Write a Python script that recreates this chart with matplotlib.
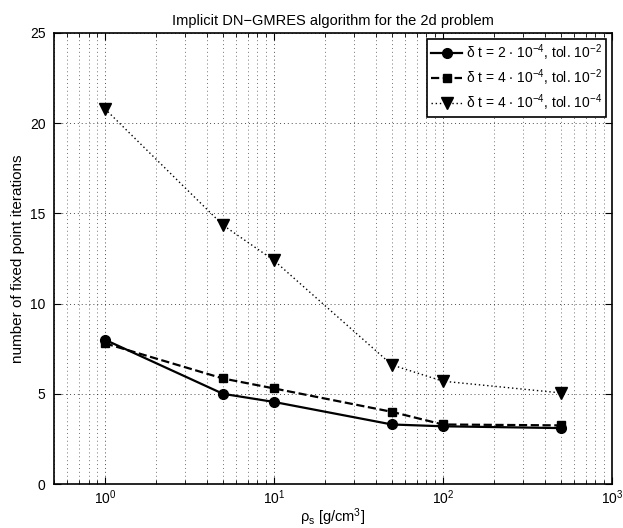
import matplotlib
matplotlib.use("Agg")
import matplotlib.pyplot as plt
import numpy as np

plt.rcParams['font.family'] = ['Liberation Sans', 'DejaVu Sans']
plt.rcParams['mathtext.fontset'] = 'custom'
plt.rcParams['mathtext.rm'] = 'Liberation Sans'
plt.rcParams['mathtext.it'] = 'Liberation Sans:italic'
plt.rcParams['mathtext.default'] = 'regular'

# density rho_s [g/cm^3]
rho = [1, 5, 10, 50, 100, 500]

# fixed point iterations
dt2_tol2 = [8.0, 5.0, 4.55, 3.3, 3.2, 3.1]
dt4_tol2 = [7.8, 5.85, 5.3, 4.0, 3.3, 3.25]
dt4_tol4 = [20.8, 14.35, 12.4, 6.6, 5.7, 5.05]

labels = [r'$\delta$ t = 2 $\cdot$ 10$^{-4}$, tol. 10$^{-2}$',
          r'$\delta$ t = 4 $\cdot$ 10$^{-4}$, tol. 10$^{-2}$',
          r'$\delta$ t = 4 $\cdot$ 10$^{-4}$, tol. 10$^{-4}$']

fig = plt.figure(figsize=(6.23, 5.28), dpi=100)
ax = fig.add_axes([0.0867, 0.0833, 0.8953, 0.8542])

ax.plot(rho, dt2_tol2, 'k-', marker='o', ms=7, lw=1.6, label=labels[0])
ax.plot(rho, dt4_tol2, 'k--', marker='s', ms=6, lw=1.6, label=labels[1])
ax.plot(rho, dt4_tol4, color='k', ls=(0, (1, 2)), marker='v', ms=8, lw=1.0, label=labels[2])

ax.set_xscale('log')
ax.set_xlim(0.5, 1000)
ax.set_ylim(0, 25)
ax.set_yticks([0, 5, 10, 15, 20, 25])

ax.grid(True, which='major', linestyle=(0, (1, 3)), color='k', lw=0.7, alpha=0.7)
ax.grid(True, which='minor', axis='x', linestyle=(0, (1, 3)), color='k', lw=0.7, alpha=0.55)
ax.tick_params(which='both', direction='in', top=True, right=True, labelsize=10)
ax.tick_params(which='major', length=5)
ax.tick_params(which='minor', length=3)
ax.tick_params(axis='x', pad=3)
ax.tick_params(axis='y', pad=6)
for s in ax.spines.values():
    s.set_linewidth(1.2)

ax.set_title('Implicit DN\u2212GMRES algorithm for the 2d problem', fontsize=10.5, pad=6)
ax.set_xlabel(r'$\rho_s$ [g/cm$^3$]', fontsize=10.5, labelpad=0)
ax.set_ylabel('number of fixed point iterations', fontsize=11)

leg = ax.legend(loc='upper right', fontsize=10, fancybox=False, framealpha=1,
                edgecolor='k', borderaxespad=0.4, handlelength=2.2,
                handletextpad=0.3, labelspacing=0.3, borderpad=0.3)
leg.get_frame().set_linewidth(1.2)

fig.savefig('out.png', dpi=100)
